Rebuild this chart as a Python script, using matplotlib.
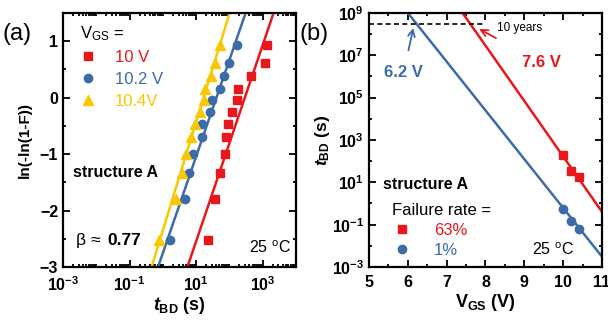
import matplotlib
matplotlib.use('Agg')
from matplotlib import pyplot as plt
from matplotlib.ticker import FixedLocator, FuncFormatter, LogLocator, MultipleLocator, NullFormatter
from math import log10

plt.rcParams['font.family'] = ['Liberation Sans', 'DejaVu Sans']
plt.rcParams['mathtext.fontset'] = 'custom'
plt.rcParams['mathtext.rm'] = 'Liberation Sans'
plt.rcParams['mathtext.bf'] = 'Liberation Sans:bold'
plt.rcParams['mathtext.it'] = 'Liberation Sans:italic:bold'  # only used for t_BD

RED = '#e8171c'
BLUE = '#3c6ca8'
YELLOW = '#f9c800'

# (a) Weibull plot, same ln(-ln(1-F)) levels for each voltage
weibull_y = [0.94, 0.62, 0.38, 0.16, -0.04, -0.25, -0.46, -0.70, -0.99, -1.34, -1.80, -2.52]
t_10v = [1380, 1150, 457, 186, 174, 120, 91, 81, 76, 51, 36, 23]
t_102v = [170, 98, 68, 51, 30, 26, 15.5, 15.5, 8.1, 6.2, 4.6, 1.7]
t_104v = [51, 36, 29, 18, 17, 12.9, 9.1, 7.2, 4.9, 3.9, 2.45, 0.78]
# fitted lines, t at y=-3 and y=1.5
fit_y = [-3, 1.5]
fit_10v = [5.5, 2140]
fit_102v = [0.72, 309]
fit_104v = [0.46, 102]

# (b) lifetime extrapolation
vgs = [10.0, 10.2, 10.4]
t63 = [200, 35, 17.4]
t1 = [0.54, 0.155, 0.06]
line63_v = [7.41, 11.0]
line63_t = [1e9, 0.41]
line1_v = [6.0, 11.0]
line1_t = [1e9, 3.1e-3]
ten_years = 3.15e8
ten_years_v = [5.0, 8.0]


def style_axes(ax):
    for sp in ax.spines.values():
        sp.set_linewidth(1.6)
    ax.tick_params(which='both', direction='in', top=True, right=True, width=1.3)
    ax.tick_params(which='major', length=5, labelsize=11.5)
    ax.tick_params(axis='x', which='major', pad=6)
    ax.tick_params(which='minor', length=2.5)
    for lab in ax.get_xticklabels() + ax.get_yticklabels():
        lab.set_fontweight('bold')


def pow_label(v, pos):
    return r'$\mathbf{10^{%d}}$' % round(log10(v))


fig = plt.figure(figsize=(6.08, 3.2), dpi=100)
ax1 = fig.add_axes([0.1036, 0.1656, 0.383, 0.794])
ax2 = fig.add_axes([0.607, 0.1656, 0.383, 0.794])

# ---- panel (a)
ax1.plot(fit_10v, fit_y, color=RED, lw=1.8)
ax1.plot(fit_102v, fit_y, color=BLUE, lw=1.8)
ax1.plot(fit_104v, fit_y, color=YELLOW, lw=1.8)
ax1.plot(t_10v, weibull_y, 's', color=RED, ms=5.5, ls='none', label='10 V')
ax1.plot(t_102v, weibull_y, 'o', color=BLUE, ms=6, ls='none', label='10.2 V')
ax1.plot(t_104v, weibull_y, '^', color=YELLOW, ms=6.5, ls='none', label='10.4V')
ax1.set_xscale('log')
ax1.set_xlim(1e-3, 1e4)
ax1.set_ylim(-3, 1.5)
ax1.xaxis.set_major_locator(FixedLocator([1e-3, 1e-1, 1e1, 1e3]))
ax1.xaxis.set_minor_locator(LogLocator(base=10, subs='all', numticks=30))
ax1.xaxis.set_major_formatter(FuncFormatter(pow_label))
ax1.xaxis.set_minor_formatter(NullFormatter())
ax1.yaxis.set_major_locator(FixedLocator([-3, -2, -1, 0, 1]))
ax1.yaxis.set_minor_locator(MultipleLocator(0.5))
style_axes(ax1)
ax1.set_xlabel(r'$t_{\mathbf{BD}}$ (s)', fontsize=13, fontweight='bold', labelpad=1)
ax1.set_ylabel('ln(-ln(1-F))', fontsize=11, fontweight='bold', labelpad=6)

leg = ax1.legend(loc='upper left', bbox_to_anchor=(0.03, 0.995), frameon=False,
                 title=r'V$_{\rm GS}$ =', title_fontsize=12, fontsize=12,
                 alignment='left', handletextpad=1.1, labelspacing=0.42,
                 handlelength=1.0, borderaxespad=0.2)
for txt, c in zip(leg.get_texts(), [RED, BLUE, YELLOW]):
    txt.set_color(c)

ax1.text(0.045, 0.37, 'structure A', transform=ax1.transAxes, fontsize=11.5,
         fontweight='bold', va='center')
ax1.text(0.055, 0.105, 'β ≈', transform=ax1.transAxes, fontsize=12.5, va='center')
ax1.text(0.19, 0.105, '0.77', transform=ax1.transAxes, fontsize=12.5,
         fontweight='bold', va='center')
ax1.text(0.98, 0.075, r'25 $^{\rm o}$C', transform=ax1.transAxes, fontsize=11.5,
         ha='right', va='center')
fig.text(0.004, 0.895, '(a)', fontsize=17, va='center')

# ---- panel (b)
ax2.plot(line63_v, line63_t, color=RED, lw=1.8)
ax2.plot(line1_v, line1_t, color=BLUE, lw=1.8)
ax2.plot(vgs, t63, 's', color=RED, ms=5.5, ls='none', label='63%')
ax2.plot(vgs, t1, 'o', color=BLUE, ms=6, ls='none', label='1%')
ax2.plot(ten_years_v, [ten_years, ten_years], color='black', ls=(0, (3, 2)), lw=1.2)
ax2.text(8.3, 10 ** 8.3, '10 years', fontsize=8.5, va='center')
ax2.annotate('6.2 V', xy=(6.14, 10 ** 8.29), xytext=(5.89, 10 ** 6.17),
             color=BLUE, fontsize=12, fontweight='bold', ha='center', va='center',
             arrowprops=dict(arrowstyle='->', color=BLUE, lw=1.3, shrinkA=9, shrinkB=0))
ax2.annotate('7.6 V', xy=(7.84, 10 ** 8.24), xytext=(9.45, 10 ** 6.64),
             color=RED, fontsize=12, fontweight='bold', ha='center', va='center',
             arrowprops=dict(arrowstyle='->', color=RED, lw=1.3, shrinkA=22, shrinkB=0))
ax2.set_yscale('log')
ax2.set_xlim(5, 11)
ax2.set_ylim(1e-3, 1e9)
ax2.yaxis.set_major_locator(FixedLocator([10.0 ** k for k in range(-3, 10, 2)]))
ax2.yaxis.set_minor_locator(FixedLocator([10.0 ** k for k in range(-2, 9, 2)]))
ax2.yaxis.set_major_formatter(FuncFormatter(pow_label))
ax2.yaxis.set_minor_formatter(NullFormatter())
ax2.xaxis.set_major_locator(MultipleLocator(1))
ax2.xaxis.set_minor_locator(MultipleLocator(0.5))
style_axes(ax2)
ax2.set_xlabel(r'V$_{\mathbf{GS}}$ (V)', fontsize=13, fontweight='bold', labelpad=1)
ax2.set_ylabel(r'$t_{\mathbf{BD}}$ (s)', fontsize=12.5, fontweight='bold', labelpad=0)

leg2 = ax2.legend(loc='lower left', bbox_to_anchor=(0.06, 0.0), frameon=False,
                  title='Failure rate =', title_fontsize=12, fontsize=12,
                  alignment='left', handletextpad=1.3, labelspacing=0.3,
                  handlelength=1.2, borderaxespad=0.15)
for txt, c in zip(leg2.get_texts(), [RED, BLUE]):
    txt.set_color(c)
ax2.text(0.06, 0.325, 'structure A', transform=ax2.transAxes, fontsize=11.5,
         fontweight='bold', va='center')
ax2.text(0.88, 0.07, r'25 $^{\rm o}$C', transform=ax2.transAxes, fontsize=11.5,
         ha='right', va='center')
fig.text(0.493, 0.895, '(b)', fontsize=17, va='center')

fig.savefig('out.png', dpi=100)
plt.close(fig)
